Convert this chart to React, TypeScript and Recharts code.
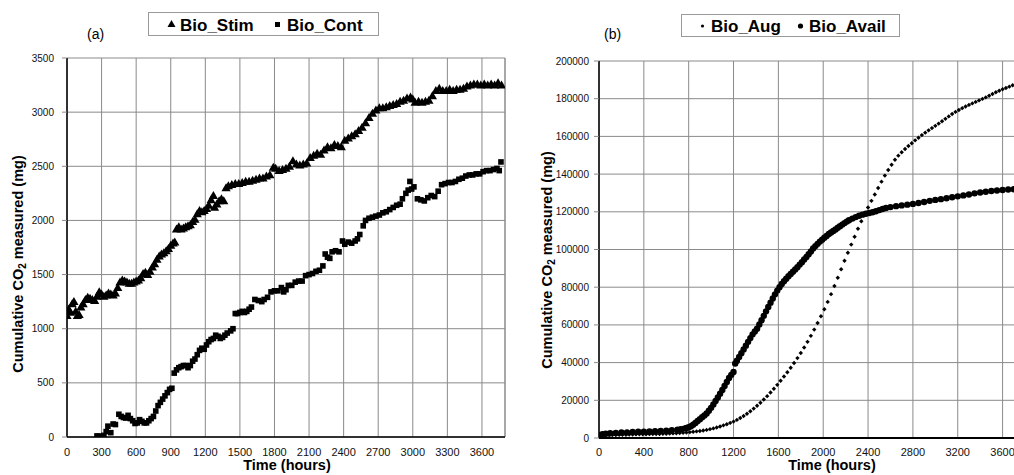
import React from "react";
import { ScatterChart, Scatter, XAxis, YAxis, CartesianGrid, ReferenceLine } from "recharts";

// ---------- Panel (a) data: [hours, cumulative CO2 mg] ----------
const bioStim: number[][] = [
  [0,1120],[15,1180],[30,1150],[45,1230],[60,1250],[75,1160],[90,1120],[105,1130],[120,1200],[140,1230],
  [160,1270],[180,1290],[200,1280],[220,1270],[240,1260],[260,1300],[280,1340],[300,1320],[320,1300],[340,1310],
  [360,1330],[380,1320],[400,1310],[420,1330],[440,1380],[460,1430],[480,1450],[500,1440],[520,1430],[540,1420],
  [560,1420],[580,1430],[600,1440],[620,1450],[640,1470],[660,1510],[680,1520],[700,1500],[720,1530],[740,1570],
  [760,1600],[780,1640],[800,1670],[820,1690],[840,1700],[860,1720],[880,1740],[900,1770],[920,1790],[935,1800],
  [950,1920],[970,1940],[990,1920],[1010,1930],[1030,1940],[1050,1950],[1070,1960],[1090,1990],[1110,2010],[1130,2060],
  [1150,2090],[1170,2080],[1190,2090],[1210,2110],[1230,2140],[1250,2190],[1270,2230],[1280,2120],[1300,2150],[1320,2180],
  [1340,2200],[1360,2180],[1380,2300],[1400,2320],[1430,2330],[1460,2340],[1490,2340],[1520,2350],[1550,2360],[1580,2360],
  [1610,2370],[1640,2380],[1670,2390],[1700,2390],[1730,2410],[1760,2420],[1790,2490],[1810,2480],[1840,2460],[1870,2470],
  [1900,2480],[1930,2500],[1960,2550],[1990,2520],[2020,2510],[2050,2520],[2080,2530],[2110,2580],[2140,2600],[2170,2620],
  [2200,2610],[2230,2650],[2260,2680],[2290,2670],[2320,2700],[2350,2690],[2380,2680],[2410,2740],[2440,2760],[2470,2780],
  [2500,2800],[2530,2830],[2560,2860],[2590,2900],[2620,2950],[2650,2990],[2680,3020],[2710,3040],[2740,3040],[2770,3050],
  [2800,3060],[2830,3070],[2860,3080],[2890,3100],[2920,3110],[2950,3130],[2980,3140],[3000,3120],[3020,3090],[3050,3100],
  [3080,3090],[3110,3100],[3140,3110],[3170,3150],[3200,3200],[3230,3220],[3260,3200],[3290,3200],[3320,3210],[3350,3200],
  [3380,3210],[3410,3210],[3440,3220],[3470,3240],[3500,3250],[3530,3260],[3560,3260],[3590,3250],[3620,3260],[3650,3250],
  [3680,3260],[3710,3250],[3740,3270],[3770,3250],
];

const bioCont: number[][] = [
  [260,10],[280,5],[300,8],[320,15],[340,50],[355,100],[380,40],[400,120],[420,115],[450,210],
  [470,190],[490,180],[510,175],[530,200],[550,170],[570,150],[590,125],[610,130],[630,160],[650,145],
  [670,130],[690,130],[710,150],[730,170],[750,190],[770,240],[790,290],[810,320],[830,350],[850,380],
  [870,410],[890,440],[910,450],[930,590],[950,620],[970,640],[990,650],[1010,660],[1030,660],[1050,640],
  [1070,660],[1090,700],[1110,720],[1130,760],[1150,800],[1170,820],[1190,810],[1210,850],[1230,880],[1250,900],
  [1270,910],[1290,940],[1310,930],[1330,910],[1350,920],[1370,940],[1390,960],[1420,980],[1440,1000],[1460,1140],
  [1480,1140],[1500,1150],[1520,1160],[1540,1150],[1560,1160],[1580,1180],[1600,1200],[1630,1270],[1660,1260],[1690,1250],
  [1710,1270],[1740,1290],[1770,1340],[1800,1350],[1830,1350],[1860,1380],[1880,1340],[1900,1360],[1920,1400],[1950,1400],
  [1980,1430],[2010,1440],[2040,1440],[2070,1490],[2100,1500],[2130,1510],[2160,1530],[2190,1540],[2220,1580],[2240,1690],
  [2260,1660],[2280,1650],[2300,1710],[2330,1720],[2360,1710],[2390,1810],[2410,1780],[2440,1800],[2470,1790],[2500,1810],
  [2520,1830],[2540,1870],[2570,1950],[2590,2000],[2620,2020],[2650,2030],[2680,2040],[2710,2050],[2740,2070],[2770,2080],
  [2800,2100],[2830,2120],[2860,2140],[2890,2150],[2910,2200],[2940,2250],[2960,2280],[2975,2360],[2990,2290],[3010,2310],
  [3040,2200],[3070,2190],[3100,2180],[3130,2210],[3160,2230],[3190,2220],[3220,2270],[3250,2330],[3280,2340],[3310,2350],
  [3340,2350],[3370,2360],[3400,2380],[3430,2390],[3460,2410],[3490,2420],[3520,2420],[3550,2430],[3580,2430],[3610,2450],
  [3640,2460],[3670,2460],[3700,2470],[3730,2480],[3750,2460],[3765,2540],
];

// ---------- Panel (b) data ----------
const bioAug: number[][] = [
  [0,1000],[30,1300],[60,1400],[90,1500],[120,1550],[150,1600],[180,1650],[210,1700],[240,1750],[270,1800],
  [300,1850],[330,1900],[360,1950],[390,2000],[420,2000],[450,2050],[480,2100],[510,2100],[540,2150],[570,2200],
  [600,2250],[630,2350],[660,2450],[690,2550],[720,2650],[750,2800],[780,2950],[810,3100],[840,3300],[870,3500],
  [900,3700],[930,4000],[960,4300],[990,4700],[1020,5100],[1050,5600],[1080,6100],[1110,6700],[1140,7300],[1170,8000],
  [1200,8700],[1230,9600],[1260,10600],[1290,11700],[1320,12900],[1350,14200],[1380,15600],[1410,17100],[1440,18700],[1470,20400],
  [1500,22200],[1530,24100],[1560,26100],[1590,28200],[1620,30400],[1650,32600],[1680,34900],[1710,37300],[1740,39800],[1770,42400],
  [1800,45100],[1830,48000],[1860,51000],[1890,54200],[1920,57500],[1950,61000],[1980,64600],[2010,68300],[2040,72200],[2070,76300],
  [2100,80600],[2130,85000],[2160,89500],[2190,94000],[2220,98300],[2250,102600],[2280,106800],[2310,111000],[2340,115000],[2370,118800],
  [2400,122300],[2430,125800],[2460,129200],[2490,132600],[2520,136000],[2550,139200],[2580,142200],[2610,145000],[2640,147600],[2670,149800],
  [2700,151600],[2730,153300],[2760,154900],[2790,156400],[2820,157900],[2850,159300],[2880,160700],[2910,162000],[2940,163200],[2970,164400],
  [3000,165600],[3030,166800],[3060,168000],[3090,169300],[3120,170600],[3150,171900],[3180,173000],[3210,174000],[3240,175000],[3270,175900],
  [3300,176700],[3330,177500],[3360,178300],[3390,179100],[3420,179900],[3450,180700],[3480,181600],[3510,182500],[3540,183400],[3570,184200],
  [3600,185000],[3630,185700],[3660,186400],[3690,187100],[3720,187700],[3750,188300],[3780,188900],
];

const bioAvail: number[][] = [
  [0,1500],[30,2000],[60,2300],[100,2500],[150,2700],[200,2900],[250,3000],[300,3200],[350,3300],[400,3400],
  [450,3500],[500,3600],[550,3800],[600,3900],[650,4100],[700,4400],[730,4700],[760,5000],[780,5300],[800,5700],
  [820,6200],[840,7000],[860,8000],[880,9000],[900,10000],[920,11000],[940,12000],[960,13000],[980,14500],[1000,16000],
  [1020,17800],[1040,19600],[1060,21500],[1080,23500],[1100,25500],[1120,27600],[1140,29700],[1160,31800],[1180,33500],[1200,35000],
  [1215,39500],[1230,41000],[1250,43000],[1270,45000],[1290,47000],[1310,49000],[1330,51000],[1350,53000],[1370,55000],[1390,56500],
  [1410,58000],[1430,60200],[1450,62500],[1470,64800],[1490,67200],[1510,69500],[1530,71800],[1550,74000],[1570,76200],[1590,78200],
  [1610,80000],[1630,81700],[1650,83200],[1670,84500],[1690,85800],[1710,87000],[1730,88200],[1750,89400],[1770,90600],[1790,92000],
  [1810,93300],[1830,94700],[1850,96000],[1870,97500],[1890,99000],[1910,100500],[1930,101800],[1950,103000],[1970,104200],[1990,105200],
  [2010,106200],[2030,107200],[2050,108200],[2070,109000],[2090,109800],[2110,110600],[2130,111500],[2150,112400],[2170,113200],[2190,114000],
  [2210,114800],[2230,115500],[2260,116400],[2290,117200],[2320,117900],[2350,118500],[2380,119000],[2410,119400],[2440,119800],[2470,120300],
  [2500,120900],[2530,121500],[2560,122000],[2600,122500],[2650,123000],[2700,123400],[2750,123800],[2800,124200],[2850,124700],[2900,125200],
  [2950,125800],[3000,126300],[3050,126700],[3100,127200],[3150,127700],[3200,128200],[3250,128700],[3300,129200],[3350,129800],[3400,130200],
  [3450,130600],[3500,131000],[3550,131300],[3600,131600],[3650,131800],[3700,132000],[3750,132200],[3800,132400],
];

// ---------- Axis ticks ----------
const aTicksX = [0, 300, 600, 900, 1200, 1500, 1800, 2100, 2400, 2700, 3000, 3300, 3600];
const aTicksY = [0, 500, 1000, 1500, 2000, 2500, 3000, 3500];
const bTicksX = [0, 400, 800, 1200, 1600, 2000, 2400, 2800, 3200, 3600];
const bTicksY = [0, 20000, 40000, 60000, 80000, 100000, 120000, 140000, 160000, 180000, 200000];

const toPts = (arr: number[][]) => arr.map(([x, y]) => ({ x, y }));

const FONT = "'Liberation Sans', Arial, sans-serif";
const GRID = "#8a8a8a";

const Triangle = (p: any) => (
  <polygon points={`${p.cx},${p.cy - 4.6} ${p.cx - 4.6},${p.cy + 3.4} ${p.cx + 4.6},${p.cy + 3.4}`} fill="#000" />
);
const Square = (p: any) => <rect x={p.cx - 2.8} y={p.cy - 2.8} width={5.6} height={5.6} fill="#000" />;
const BigDot = (p: any) => <circle cx={p.cx} cy={p.cy} r={3.2} fill="#000" />;
const SmallDot = (p: any) => (
  <polygon points={`${p.cx},${p.cy - 2.2} ${p.cx + 2.2},${p.cy} ${p.cx},${p.cy + 2.2} ${p.cx - 2.2},${p.cy}`} fill="#000" />
);

const YLabel = ({ cx, cy }: { cx: number; cy: number }) => (
  <text
    x={cx}
    y={cy}
    transform={`rotate(-90 ${cx} ${cy})`}
    textAnchor="middle"
    dominantBaseline="central"
    fontFamily={FONT}
    fontWeight="bold"
    fontSize={14.5}
    fill="#000"
  >
    Cumulative CO<tspan dy={4} fontSize={10}>2</tspan>
    <tspan dy={-4}> measured (mg)</tspan>
  </text>
);

const XLabel = ({ cx, y }: { cx: number; y: number }) => (
  <text x={cx} y={y} textAnchor="middle" fontFamily={FONT} fontWeight="bold" fontSize={14.5} fill="#000">
    Time (hours)
  </text>
);

const xTickStyle = { fontFamily: FONT, fontSize: 11, fill: "#111" };
const yTickStyle = { fontFamily: FONT, fontSize: 10, fill: "#111" };

function PanelA() {
  return (
    <div style={{ position: "absolute", left: 0, top: 0 }}>
      <ScatterChart width={510} height={475} margin={{ top: 58, right: 5, bottom: 0, left: 0 }}>
        <CartesianGrid stroke={GRID} strokeWidth={1} />
        <XAxis
          type="number"
          dataKey="x"
          domain={[0, 3800]}
          ticks={aTicksX}
          interval={0}
          height={38}
          tickLine={false}
          tickSize={5}
          tickMargin={6}
          tick={xTickStyle}
          axisLine={{ stroke: "#000", strokeWidth: 1.5 }}
          allowDataOverflow
          label={{ content: () => <XLabel cx={287} y={470} /> }}
        />
        <YAxis
          type="number"
          dataKey="y"
          domain={[0, 3500]}
          ticks={aTicksY}
          interval={0}
          width={67}
          tickSize={5}
          tickMargin={8}
          tickLine={{ stroke: GRID }}
          tick={yTickStyle}
          axisLine={{ stroke: "#000", strokeWidth: 1.5 }}
          allowDataOverflow
          label={{ content: () => <YLabel cx={18} cy={264} /> }}
        />
        <ReferenceLine x={3800} stroke={GRID} strokeWidth={1} />
        <Scatter name="Bio_Cont" data={toPts(bioCont)} shape={Square} isAnimationActive={false} />
        <Scatter name="Bio_Stim" data={toPts(bioStim)} shape={Triangle} isAnimationActive={false} />
      </ScatterChart>
      <svg style={{ position: "absolute", left: 0, top: 0 }} width={510} height={58}>
        <text x={87} y={39} fontFamily={FONT} fontSize={14} fill="#000">(a)</text>
        <rect x={148.5} y={12.5} width={230} height={23} fill="#fff" stroke="#9a9a9a" />
        <polygon points="171.5,20 167.5,27 175.5,27" fill="#000" />
        <text x={180} y={30.5} fontFamily={FONT} fontWeight="bold" fontSize={17} fill="#000">Bio_Stim</text>
        <rect x={275} y={22} width={5} height={5} fill="#000" />
        <text x={287} y={30.5} fontFamily={FONT} fontWeight="bold" fontSize={17} fill="#000">Bio_Cont</text>
      </svg>
    </div>
  );
}

function PanelB() {
  return (
    <div style={{ position: "absolute", left: 507, top: 0 }}>
      <ScatterChart width={523} height={475} margin={{ top: 61, right: 5, bottom: 0, left: 0 }}>
        <CartesianGrid stroke={GRID} strokeWidth={1} />
        <XAxis
          type="number"
          dataKey="x"
          domain={[0, 3800]}
          ticks={bTicksX}
          interval={0}
          height={37}
          tickLine={false}
          tickSize={5}
          tickMargin={5}
          tick={xTickStyle}
          axisLine={{ stroke: "#000", strokeWidth: 2 }}
          allowDataOverflow
          label={{ content: () => <XLabel cx={325} y={470} /> }}
        />
        <YAxis
          type="number"
          dataKey="y"
          domain={[0, 200000]}
          ticks={bTicksY}
          interval={0}
          width={92}
          tickSize={5}
          tickMargin={5}
          tickLine={{ stroke: GRID }}
          tick={yTickStyle}
          axisLine={{ stroke: "#000", strokeWidth: 1.5 }}
          allowDataOverflow
          label={{ content: () => <YLabel cx={40} cy={260} /> }}
        />
        <Scatter name="Bio_Aug" data={toPts(bioAug)} shape={SmallDot} isAnimationActive={false} />
        <Scatter name="Bio_Avail" data={toPts(bioAvail)} shape={BigDot} isAnimationActive={false} />
      </ScatterChart>
      <svg style={{ position: "absolute", left: 0, top: 0 }} width={523} height={61}>
        <text x={97} y={39} fontFamily={FONT} fontSize={14} fill="#000">(b)</text>
        <rect x={174.5} y={14.5} width={218} height={22} fill="#fff" stroke="#9a9a9a" />
        <circle cx={195.5} cy={26} r={1.6} fill="#000" />
        <text x={204} y={31.5} fontFamily={FONT} fontWeight="bold" fontSize={17} fill="#000">Bio_Aug</text>
        <circle cx={293.5} cy={26} r={2.6} fill="#000" />
        <text x={302} y={31.5} fontFamily={FONT} fontWeight="bold" fontSize={17} fill="#000">Bio_Avail</text>
      </svg>
    </div>
  );
}

export default function App() {
  return (
    <div
      style={{
        position: "absolute",
        left: 0,
        top: 0,
        width: 1014,
        height: 475,
        overflow: "hidden",
        background: "#fff",
      }}
    >
      <PanelA />
      <PanelB />
    </div>
  );
}
